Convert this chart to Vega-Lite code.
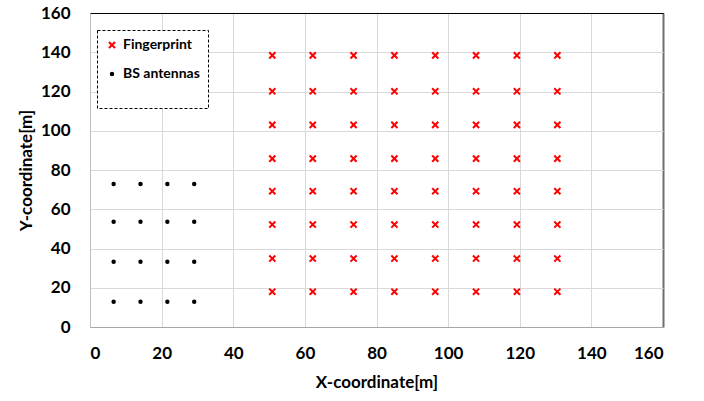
{
  "$schema": "https://vega.github.io/schema/vega-lite/v6.json",
  "width": 573,
  "height": 314,
  "autosize": {"type": "none"},
  "padding": {"left": 90, "top": 13, "right": 41, "bottom": 74},
  "background": "white",
  "config": {
    "font": "Lato",
    "view": {"stroke": "#404040", "strokeWidth": 1},
    "legend": {"strokeDash": [3, 2]},
    "axis": {
      "labelFont": "Lato",
      "labelFontWeight": "bold",
      "labelFontSize": 17,
      "labelColor": "#000000",
      "titleFont": "Lato",
      "titleFontWeight": "bold",
      "titleFontSize": 17,
      "titleColor": "#000000",
      "gridWidth": 1,
      "ticks": false
    }
  },
  "data": {
    "values": [
      {"x": 50.9, "y": 138.4, "type": "Fingerprint"},
      {"x": 62.2, "y": 138.4, "type": "Fingerprint"},
      {"x": 73.6, "y": 138.4, "type": "Fingerprint"},
      {"x": 85.0, "y": 138.4, "type": "Fingerprint"},
      {"x": 96.4, "y": 138.4, "type": "Fingerprint"},
      {"x": 107.8, "y": 138.4, "type": "Fingerprint"},
      {"x": 119.2, "y": 138.4, "type": "Fingerprint"},
      {"x": 130.5, "y": 138.4, "type": "Fingerprint"},
      {"x": 50.9, "y": 120.1, "type": "Fingerprint"},
      {"x": 62.2, "y": 120.1, "type": "Fingerprint"},
      {"x": 73.6, "y": 120.1, "type": "Fingerprint"},
      {"x": 85.0, "y": 120.1, "type": "Fingerprint"},
      {"x": 96.4, "y": 120.1, "type": "Fingerprint"},
      {"x": 107.8, "y": 120.1, "type": "Fingerprint"},
      {"x": 119.2, "y": 120.1, "type": "Fingerprint"},
      {"x": 130.5, "y": 120.1, "type": "Fingerprint"},
      {"x": 50.9, "y": 103.0, "type": "Fingerprint"},
      {"x": 62.2, "y": 103.0, "type": "Fingerprint"},
      {"x": 73.6, "y": 103.0, "type": "Fingerprint"},
      {"x": 85.0, "y": 103.0, "type": "Fingerprint"},
      {"x": 96.4, "y": 103.0, "type": "Fingerprint"},
      {"x": 107.8, "y": 103.0, "type": "Fingerprint"},
      {"x": 119.2, "y": 103.0, "type": "Fingerprint"},
      {"x": 130.5, "y": 103.0, "type": "Fingerprint"},
      {"x": 50.9, "y": 85.8, "type": "Fingerprint"},
      {"x": 62.2, "y": 85.8, "type": "Fingerprint"},
      {"x": 73.6, "y": 85.8, "type": "Fingerprint"},
      {"x": 85.0, "y": 85.8, "type": "Fingerprint"},
      {"x": 96.4, "y": 85.8, "type": "Fingerprint"},
      {"x": 107.8, "y": 85.8, "type": "Fingerprint"},
      {"x": 119.2, "y": 85.8, "type": "Fingerprint"},
      {"x": 130.5, "y": 85.8, "type": "Fingerprint"},
      {"x": 50.9, "y": 69.2, "type": "Fingerprint"},
      {"x": 62.2, "y": 69.2, "type": "Fingerprint"},
      {"x": 73.6, "y": 69.2, "type": "Fingerprint"},
      {"x": 85.0, "y": 69.2, "type": "Fingerprint"},
      {"x": 96.4, "y": 69.2, "type": "Fingerprint"},
      {"x": 107.8, "y": 69.2, "type": "Fingerprint"},
      {"x": 119.2, "y": 69.2, "type": "Fingerprint"},
      {"x": 130.5, "y": 69.2, "type": "Fingerprint"},
      {"x": 50.9, "y": 52.2, "type": "Fingerprint"},
      {"x": 62.2, "y": 52.2, "type": "Fingerprint"},
      {"x": 73.6, "y": 52.2, "type": "Fingerprint"},
      {"x": 85.0, "y": 52.2, "type": "Fingerprint"},
      {"x": 96.4, "y": 52.2, "type": "Fingerprint"},
      {"x": 107.8, "y": 52.2, "type": "Fingerprint"},
      {"x": 119.2, "y": 52.2, "type": "Fingerprint"},
      {"x": 130.5, "y": 52.2, "type": "Fingerprint"},
      {"x": 50.9, "y": 34.9, "type": "Fingerprint"},
      {"x": 62.2, "y": 34.9, "type": "Fingerprint"},
      {"x": 73.6, "y": 34.9, "type": "Fingerprint"},
      {"x": 85.0, "y": 34.9, "type": "Fingerprint"},
      {"x": 96.4, "y": 34.9, "type": "Fingerprint"},
      {"x": 107.8, "y": 34.9, "type": "Fingerprint"},
      {"x": 119.2, "y": 34.9, "type": "Fingerprint"},
      {"x": 130.5, "y": 34.9, "type": "Fingerprint"},
      {"x": 50.9, "y": 18.0, "type": "Fingerprint"},
      {"x": 62.2, "y": 18.0, "type": "Fingerprint"},
      {"x": 73.6, "y": 18.0, "type": "Fingerprint"},
      {"x": 85.0, "y": 18.0, "type": "Fingerprint"},
      {"x": 96.4, "y": 18.0, "type": "Fingerprint"},
      {"x": 107.8, "y": 18.0, "type": "Fingerprint"},
      {"x": 119.2, "y": 18.0, "type": "Fingerprint"},
      {"x": 130.5, "y": 18.0, "type": "Fingerprint"},
      {"x": 6.6, "y": 72.9, "type": "BS antennas"},
      {"x": 14.1, "y": 72.9, "type": "BS antennas"},
      {"x": 21.6, "y": 72.9, "type": "BS antennas"},
      {"x": 29.1, "y": 72.9, "type": "BS antennas"},
      {"x": 6.6, "y": 53.6, "type": "BS antennas"},
      {"x": 14.1, "y": 53.6, "type": "BS antennas"},
      {"x": 21.6, "y": 53.6, "type": "BS antennas"},
      {"x": 29.1, "y": 53.6, "type": "BS antennas"},
      {"x": 6.6, "y": 33.2, "type": "BS antennas"},
      {"x": 14.1, "y": 33.2, "type": "BS antennas"},
      {"x": 21.6, "y": 33.2, "type": "BS antennas"},
      {"x": 29.1, "y": 33.2, "type": "BS antennas"},
      {"x": 6.6, "y": 12.9, "type": "BS antennas"},
      {"x": 14.1, "y": 12.9, "type": "BS antennas"},
      {"x": 21.6, "y": 12.9, "type": "BS antennas"},
      {"x": 29.1, "y": 12.9, "type": "BS antennas"}
    ]
  },
  "mark": {"type": "point", "filled": false, "strokeWidth": 2, "opacity": 1},
  "encoding": {
    "x": {
      "field": "x",
      "type": "quantitative",
      "scale": {"domain": [0, 160], "nice": false},
      "axis": {
        "values": [0, 20, 40, 60, 80, 100, 120, 140, 160],
        "title": "X-coordinate[m]",
        "labelPadding": 18,
        "titlePadding": 13,
        "domainColor": "#a6a6a6",
        "domainWidth": 1,
        "gridColor": {"condition": {"test": "datum.value == 160", "value": "#6e6e6e"}, "value": "#d9d9d9"},
        "gridWidth": {"condition": {"test": "datum.value == 160", "value": 2}, "value": 1}
      }
    },
    "y": {
      "field": "y",
      "type": "quantitative",
      "scale": {"domain": [0, 160], "nice": false},
      "axis": {
        "values": [0, 20, 40, 60, 80, 100, 120, 140, 160],
        "title": "Y-coordinate[m]",
        "labelPadding": 20,
        "titlePadding": 5,
        "domainColor": "#bfbfbf",
        "domainWidth": 1,
        "gridColor": {"condition": {"test": "datum.value == 160", "value": "#000000"}, "value": "#d9d9d9"}
      }
    },
    "color": {
      "field": "type",
      "type": "nominal",
      "scale": {"domain": ["Fingerprint", "BS antennas"], "range": ["#ff0000", "#000000"]},
      "legend": {
        "title": " ",
        "titleOrient": "bottom",
        "titleFontSize": 14,
        "titlePadding": 5,
        "orient": "none",
        "legendX": 7,
        "legendY": 17,
        "padding": 8,
        "strokeColor": "#000000",
        "fillColor": "#ffffff",
        "labelFont": "Lato",
        "labelFontWeight": "bold",
        "labelFontSize": 14,
        "labelColor": "#000000",
        "rowPadding": 14,
        "symbolStrokeWidth": 2,
        "labelOffset": 4,
        "encode": {"legend": {"enter": {"strokeDash": {"value": [3, 2]}}, "update": {"strokeDash": {"value": [3, 2]}}}}
      }
    },
    "shape": {
      "field": "type",
      "type": "nominal",
      "scale": {"domain": ["Fingerprint", "BS antennas"], "range": ["M-1,-1L1,1M1,-1L-1,1", "circle"]}
    },
    "size": {
      "field": "type",
      "type": "nominal",
      "scale": {"domain": ["Fingerprint", "BS antennas"], "range": [38, 6]}
    },
    "fill": {
      "field": "type",
      "type": "nominal",
      "scale": {"domain": ["Fingerprint", "BS antennas"], "range": ["transparent", "#000000"]}
    }
  }
}
